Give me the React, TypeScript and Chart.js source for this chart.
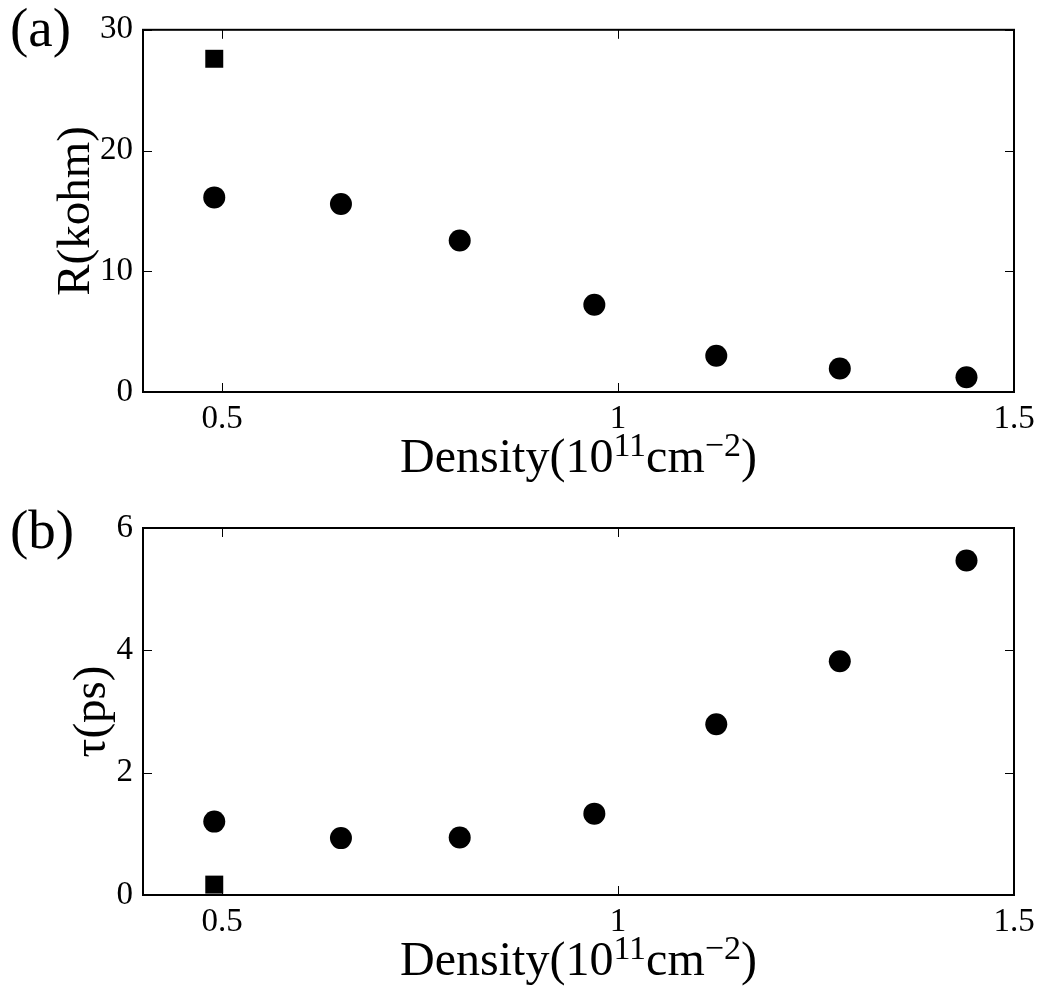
import React, { useEffect, useRef } from "react";
import { Chart, registerables } from "chart.js";

Chart.register(...registerables);

// ---- data ----
const X_TICKS = [0.5, 1, 1.5];
const DENSITY = [0.49, 0.65, 0.8, 0.97, 1.124, 1.28, 1.44];
const R_CIRCLES = [16.12, 15.57, 12.55, 7.22, 3.0, 1.94, 1.22];
const R_SQUARE_X = [0.49];
const R_SQUARE = [27.6];
const R_TICKS = [0, 10, 20, 30];
const TAU_CIRCLES = [1.2, 0.93, 0.94, 1.33, 2.79, 3.82, 5.47];
const TAU_SQUARE_X = [0.49];
const TAU_SQUARE = [0.17];
const TAU_TICKS = [0, 2, 4, 6];

const FONT = '"Liberation Serif", "Times New Roman", serif';
const W = 1044;

const framePlugin = {
  id: "frame",
  afterDraw(chart: any, _args: any, opts: any) {
    const { ctx, chartArea, scales } = chart;
    const { left, right, top, bottom } = chartArea;
    const x = scales.x;
    const y = scales.y;
    ctx.save();
    ctx.strokeStyle = "#000";
    ctx.lineWidth = 1;
    const tl = 9;
    ctx.beginPath();
    x.ticks.forEach((t: any) => {
      const px = Math.round(x.getPixelForValue(t.value)) + 0.5;
      ctx.moveTo(px, bottom);
      ctx.lineTo(px, bottom - tl);
      ctx.moveTo(px, top);
      ctx.lineTo(px, top + tl);
    });
    y.ticks.forEach((t: any) => {
      const py = Math.round(y.getPixelForValue(t.value)) + 0.5;
      ctx.moveTo(left, py);
      ctx.lineTo(left + tl, py);
      ctx.moveTo(right, py);
      ctx.lineTo(right - tl, py);
    });
    ctx.stroke();
    ctx.lineWidth = 2;
    ctx.strokeRect(left, top, right - left, bottom - top);

    // panel letter
    ctx.fillStyle = "#000";
    ctx.textAlign = "left";
    ctx.textBaseline = "alphabetic";
    ctx.font = `55px ${FONT}`;
    ctx.fillText(opts.letter, 10, opts.letterBaseline);

    // x-axis title with superscripts
    const runs = [
      { t: "Density(10", sup: false },
      { t: "11", sup: true },
      { t: "cm", sup: false },
      { t: "\u22122", sup: true },
      { t: ")", sup: false },
    ];
    const mainF = `48px ${FONT}`;
    const supF = `34px ${FONT}`;
    let total = 0;
    const widths = runs.map((r) => {
      ctx.font = r.sup ? supF : mainF;
      const w = ctx.measureText(r.t).width;
      total += w;
      return w;
    });
    let cx = (left + right) / 2 - total / 2;
    const base = bottom + opts.titleOffset;
    runs.forEach((r, i) => {
      ctx.font = r.sup ? supF : mainF;
      ctx.fillText(r.t, cx, r.sup ? base - 16 : base);
      cx += widths[i];
    });
    ctx.restore();
  },
};

type PanelProps = {
  top: number;
  height: number;
  plotTop: number;
  plotBottom: number;
  letter: string;
  letterBaseline: number;
  yTitle: string;
  yTitlePad: number;
  circles: number[];
  squareX: number[];
  square: number[];
  yTicks: number[];
  titleOffset: number;
};

function Panel(p: PanelProps) {
  const ref = useRef<HTMLCanvasElement | null>(null);
  useEffect(() => {
    const canvas = ref.current;
    if (!canvas) return;
    const chart = new Chart(canvas, {
      type: "scatter",
      data: {
        datasets: [
          {
            data: DENSITY.map((d, i) => ({ x: d, y: p.circles[i] })),
            pointStyle: "circle",
            pointRadius: 11,
            pointHoverRadius: 11,
            backgroundColor: "#000",
            borderWidth: 0,
            clip: false,
          },
          {
            data: p.squareX.map((d, i) => ({ x: d, y: p.square[i] })),
            pointStyle: "rect",
            pointRadius: 12.7,
            pointHoverRadius: 12.7,
            backgroundColor: "#000",
            borderWidth: 0,
            clip: false,
          },
        ],
      },
      options: {
        responsive: false,
        maintainAspectRatio: false,
        devicePixelRatio: 1,
        animation: false,
        events: [],
        layout: {
          padding: { top: p.plotTop, right: W - 1014, left: 0, bottom: 0 },
        },
        plugins: {
          legend: { display: false },
          tooltip: { enabled: false },
          frame: { letter: p.letter, letterBaseline: p.letterBaseline, titleOffset: p.titleOffset },
        } as any,
        scales: {
          x: {
            type: "linear",
            min: 0.4,
            max: 1.5,
            grid: { display: false, drawTicks: false },
            border: { display: false },
            afterBuildTicks: (s: any) => {
              s.ticks = X_TICKS.map((v) => ({ value: v }));
            },
            afterFit: (s: any) => {
              s.height = p.height - p.plotBottom;
            },
            ticks: {
              color: "#000",
              font: { family: FONT, size: 33 },
              padding: 8,
              maxRotation: 0,
              callback: (v: any) => String(v),
            },
          },
          y: {
            type: "linear",
            min: p.yTicks[0],
            max: p.yTicks[p.yTicks.length - 1],
            grid: { display: false, drawTicks: false },
            border: { display: false },
            afterBuildTicks: (s: any) => {
              s.ticks = p.yTicks.map((v) => ({ value: v }));
            },
            afterFit: (s: any) => {
              s.width = 143;
            },
            ticks: {
              color: "#000",
              font: { family: FONT, size: 33 },
              padding: 10,
              callback: (v: any) => String(v),
            },
            title: {
              display: true,
              text: p.yTitle,
              color: "#000",
              font: { family: FONT, size: 47 },
              padding: { top: p.yTitlePad, bottom: 0 },
            },
          },
        },
      },
      plugins: [framePlugin as any],
    });
    return () => chart.destroy();
  }, []);
  return (
    <canvas
      ref={ref}
      width={W}
      height={p.height}
      style={{ position: "absolute", left: 0, top: p.top, width: W, height: p.height }}
    />
  );
}

export default function App() {
  return (
    <div style={{ position: "absolute", left: 0, top: 0, width: W, height: 998, background: "#fff" }}>
      <Panel
        top={0}
        height={495}
        plotTop={24}
        plotBottom={392}
        letter="(a)"
        letterBaseline={46}
        yTitle="R(kohm)"
        yTitlePad={48}
        circles={R_CIRCLES}
        squareX={R_SQUARE_X}
        square={R_SQUARE}
        yTicks={R_TICKS}
        titleOffset={80}
      />
      <Panel
        top={495}
        height={503}
        plotTop={33}
        plotBottom={400}
        letter="(b)"
        letterBaseline={53}
        yTitle="τ(ps)"
        yTitlePad={64}
        circles={TAU_CIRCLES}
        squareX={TAU_SQUARE_X}
        square={TAU_SQUARE}
        yTicks={TAU_TICKS}
        titleOffset={80}
      />
    </div>
  );
}
